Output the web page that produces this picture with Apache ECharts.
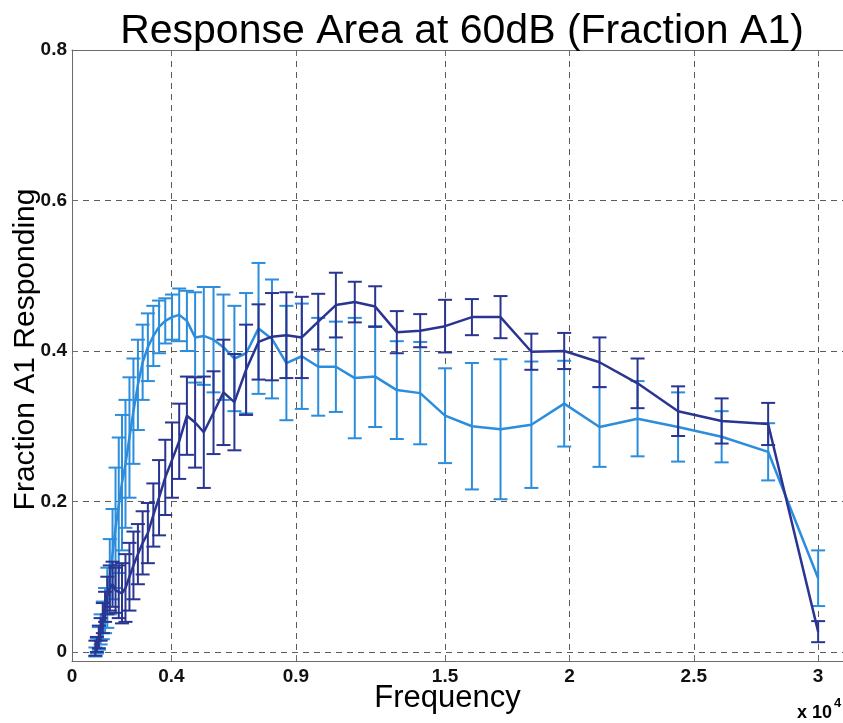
<!DOCTYPE html>
<html><head><meta charset="utf-8">
<script src="https://cdn.jsdelivr.net/npm/echarts@6/dist/echarts.min.js"></script>
<style>html,body{margin:0;padding:0;background:#fff}#c{width:843px;height:723px}</style>
</head><body><div id="c"></div>
<script>
// Frequency (x 10^4), ascending
const freq = [0.094, 0.100, 0.108, 0.115, 0.124, 0.133, 0.142, 0.152, 0.163, 0.175,
  0.188, 0.201, 0.215, 0.231, 0.247, 0.265, 0.284, 0.305, 0.327, 0.350,
  0.375, 0.402, 0.431, 0.462, 0.495, 0.530, 0.569, 0.609, 0.653, 0.700,
  0.750, 0.804, 0.862, 0.924, 0.990, 1.061, 1.137, 1.219, 1.306, 1.400,
  1.500, 1.608, 1.723, 1.847, 1.979, 2.121, 2.274, 2.437, 2.612, 2.799, 3.000];
const lightMean = [0.000, 0.008, 0.018, 0.030, 0.042, 0.055, 0.072, 0.100, 0.130, 0.165,
  0.195, 0.225, 0.250, 0.285, 0.320, 0.355, 0.385, 0.405, 0.420, 0.432,
  0.440, 0.445, 0.448, 0.440, 0.418, 0.420, 0.415, 0.405, 0.390, 0.397,
  0.430, 0.416, 0.384, 0.393, 0.379, 0.379, 0.364, 0.366, 0.348, 0.344,
  0.314, 0.300, 0.296, 0.302, 0.330, 0.299, 0.310, 0.299, 0.286, 0.266, 0.098];
const lightErr = [0.006, 0.010, 0.015, 0.020, 0.025, 0.030, 0.040, 0.050, 0.060, 0.080,
  0.090, 0.090, 0.085, 0.080, 0.070, 0.060, 0.050, 0.045, 0.040, 0.035,
  0.030, 0.030, 0.035, 0.040, 0.060, 0.065, 0.070, 0.070, 0.070, 0.080,
  0.087, 0.079, 0.076, 0.070, 0.065, 0.060, 0.080, 0.067, 0.065, 0.068,
  0.063, 0.084, 0.093, 0.084, 0.057, 0.053, 0.050, 0.046, 0.034, 0.038, 0.037];
const darkMean = [0.005, 0.010, 0.020, 0.030, 0.045, 0.060, 0.075, 0.085, 0.090, 0.082,
  0.080, 0.078, 0.085, 0.100, 0.115, 0.130, 0.145, 0.158, 0.182, 0.205,
  0.232, 0.255, 0.280, 0.314, 0.305, 0.292, 0.318, 0.345, 0.332, 0.375,
  0.412, 0.419, 0.421, 0.418, 0.439, 0.461, 0.465, 0.459, 0.425, 0.427,
  0.433, 0.445, 0.445, 0.399, 0.400, 0.385, 0.357, 0.320, 0.307, 0.303, 0.027];
const darkErr = [0.010, 0.010, 0.015, 0.015, 0.020, 0.020, 0.025, 0.030, 0.030, 0.030,
  0.035, 0.040, 0.045, 0.045, 0.045, 0.040, 0.042, 0.040, 0.042, 0.050,
  0.050, 0.050, 0.050, 0.052, 0.060, 0.074, 0.055, 0.070, 0.064, 0.060,
  0.050, 0.058, 0.057, 0.054, 0.037, 0.043, 0.027, 0.027, 0.028, 0.022,
  0.035, 0.024, 0.028, 0.024, 0.024, 0.033, 0.033, 0.033, 0.030, 0.028, 0.014];
const xTicks = [0, 0.4, 0.9, 1.5, 2, 2.5, 3];
const yTicks = [0, 0.2, 0.4, 0.6, 0.8];

const lightColor = '#2c8ddc';
const darkColor = '#2a3591';
const axisColor = '#6e6a68';
const gridColor = '#5a5a5a';
const FONT = 'Liberation Sans, Arial, Helvetica, sans-serif';

function lineSeries(mean, color, z) {
  return {
    type: 'line', data: freq.map((f, i) => [f, mean[i]]),
    showSymbol: false, symbol: 'none', smooth: false,
    lineStyle: { color: color, width: 2.5 }, z: z, animation: false, silent: true
  };
}
function errSeries(mean, err, color, z) {
  return {
    type: 'custom', z: z, animation: false, silent: true,
    data: freq.map((f, i) => [f, mean[i], err[i]]),
    encode: { x: 0, y: 1 },
    renderItem: function (params, api) {
      const x = api.value(0), m = api.value(1), e = api.value(2);
      const top = api.coord([x, m + e]);
      const bot = api.coord([x, m - e]);
      const hw = 7;
      const style = { stroke: color, lineWidth: 2, fill: null };
      return { type: 'group', children: [
        { type: 'line', shape: { x1: top[0], y1: top[1], x2: bot[0], y2: bot[1] }, style: style },
        { type: 'line', shape: { x1: top[0] - hw, y1: top[1], x2: top[0] + hw, y2: top[1] }, style: style },
        { type: 'line', shape: { x1: bot[0] - hw, y1: bot[1], x2: bot[0] + hw, y2: bot[1] }, style: style }
      ] };
    }
  };
}

const chart = echarts.init(document.getElementById('c'));
chart.setOption({
  animation: false,
  backgroundColor: '#ffffff',
  title: {
    text: 'Response Area at 60dB (Fraction A1)',
    left: 457, top: 6, textAlign: 'center',
    textStyle: { fontFamily: FONT, fontSize: 41, fontWeight: 'normal', color: '#000' }
  },
  grid: { left: 72, right: 0, top: 50, bottom: 62, containLabel: false, outerBoundsMode: 'none' },
  xAxis: [{
    type: 'value', min: 0, max: 3.1, position: 'bottom',
    axisLine: { show: true, onZero: false, lineStyle: { color: axisColor, width: 1 } },
    axisTick: { show: true, inside: true, length: 6, customValues: xTicks, lineStyle: { color: axisColor } },
    axisLabel: { customValues: xTicks, formatter: v => String(v), fontFamily: FONT, fontWeight: 'bold', fontSize: 19, color: '#111', margin: 6 },
    splitLine: { show: true, lineStyle: { type: [6, 5], color: gridColor, width: 1 } },
    name: 'Frequency', nameLocation: 'middle', nameGap: 22, nameMoveOverlap: false,
    nameTextStyle: { fontFamily: FONT, fontSize: 31, color: '#000', padding: [0, 20, 0, 0] }
  }, {
    type: 'value', min: 0, max: 3.1, position: 'top',
    axisLine: { show: true, onZero: false, lineStyle: { color: axisColor, width: 1 } },
    axisTick: { show: true, inside: true, length: 6, customValues: xTicks, lineStyle: { color: axisColor } },
    axisLabel: { show: false }, splitLine: { show: false }
  }],
  yAxis: [{
    type: 'value', min: -0.012, max: 0.8,
    axisLine: { show: true, onZero: false, lineStyle: { color: axisColor, width: 1 } },
    axisTick: { show: true, inside: true, length: 6, customValues: yTicks, lineStyle: { color: axisColor } },
    axisLabel: { customValues: yTicks, formatter: v => String(v), fontFamily: FONT, fontWeight: 'bold', fontSize: 19, color: '#111', margin: 5 },
    splitLine: { show: true, lineStyle: { type: [6, 5], color: gridColor, width: 1 } },
    name: 'Fraction A1 Responding', nameLocation: 'middle', nameGap: 31, nameMoveOverlap: false,
    nameTextStyle: { fontFamily: FONT, fontSize: 30, color: '#000', padding: [0, 0, 0, 12] }
  }],
  graphic: [
    { type: 'text', left: 797, top: 704, style: { text: 'x 10', font: 'bold 18px ' + FONT, fill: '#000' } },
    { type: 'text', left: 834, top: 697, style: { text: '4', font: 'bold 13px ' + FONT, fill: '#000' } }
  ],
  series: [
    errSeries(lightMean, lightErr, lightColor, 2),
    lineSeries(lightMean, lightColor, 3),
    errSeries(darkMean, darkErr, darkColor, 4),
    lineSeries(darkMean, darkColor, 5)
  ]
});
</script>
</body></html>
